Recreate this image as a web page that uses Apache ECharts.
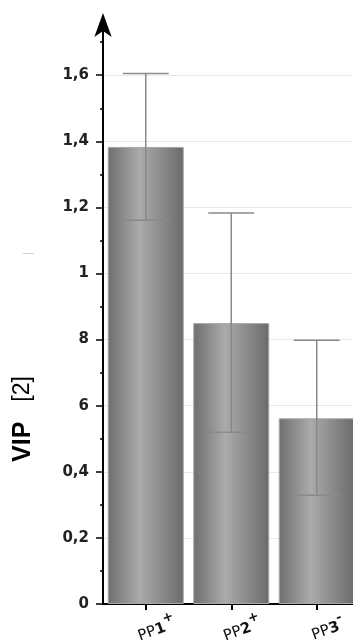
<!DOCTYPE html>
<html>
<head>
<meta charset="utf-8">
<script src="https://cdn.jsdelivr.net/npm/echarts@6/dist/echarts.min.js"></script>
<style>
html,body{margin:0;padding:0;background:#fff;}
#c{width:353px;height:642px;}
</style>
</head>
<body>
<div id="c"></div>
<script>
var categories = ['PP1+', 'PP2+', 'PP3-'];
var values = [1.383, 0.850, 0.562];
var errLow = [1.161, 0.520, 0.329];
var errHigh = [1.605, 1.183, 0.798];
var yTickLabels = ['0', '0,2', '0,4', '6', '8', '1', '1,2', '1,4', '1,6'];
var yTitleMain = 'VIP';
var yTitleUnit = '[2]';

var chart = echarts.init(document.getElementById('c'), null, {renderer: 'canvas'});

var gridLeft = 103, gridWidth = 256.5, gridBottom = 38;

var errData = categories.map(function (c, i) { return [i, errLow[i], errHigh[i]]; });

var option = {
  animation: false,
  backgroundColor: '#ffffff',
  grid: [
    {left: gridLeft, width: gridWidth, top: 42.15, bottom: gridBottom, outerBoundsMode: 'none', containLabel: false},
    {left: gridLeft, width: gridWidth, top: 75.2, bottom: gridBottom, outerBoundsMode: 'none', containLabel: false},
    {left: gridLeft, width: gridWidth, top: 30, bottom: gridBottom, outerBoundsMode: 'none', containLabel: false}
  ],
  xAxis: [
    {
      gridIndex: 0, type: 'category', data: categories, boundaryGap: true,
      axisLine: {show: true, lineStyle: {color: '#000', width: 2}},
      axisTick: {show: true, alignWithLabel: true, length: 6, lineStyle: {color: '#000', width: 2}},
      axisLabel: {
        rotate: 20, margin: 15, align: 'center', verticalAlign: 'top', padding: [0, 0, 0, 14],
        formatter: function (v) {
          var m = v.match(/^(PP)(\d)(.)$/);
          return '{a|' + m[1] + '}{b|' + m[2] + '}{c|' + m[3] + '}';
        },
        rich: {
          a: {fontFamily: 'DejaVu Sans', fontSize: 15, color: '#111', lineHeight: 22, verticalAlign: 'bottom'},
          b: {fontFamily: 'DejaVu Sans', fontSize: 15, fontWeight: 'bold', color: '#111', lineHeight: 22, verticalAlign: 'bottom'},
          c: {fontFamily: 'DejaVu Sans', fontSize: 13, fontWeight: 'bold', color: '#111', lineHeight: 22, verticalAlign: 'top'}
        }
      },
      splitLine: {show: false}
    },
    {gridIndex: 1, type: 'category', data: categories, show: false},
    {gridIndex: 2, type: 'category', data: categories, show: false}
  ],
  yAxis: [
    {
      gridIndex: 0, type: 'value', min: 0, max: 1.7, interval: 0.1,
      axisLine: {show: true, lineStyle: {color: '#000', width: 2}},
      axisTick: {show: true, length: 3, lineStyle: {color: '#000', width: 1.5}},
      axisLabel: {show: false},
      splitLine: {show: false}
    },
    {
      gridIndex: 1, type: 'value', min: 0, max: 1.6, interval: 0.2,
      axisLine: {show: false},
      axisTick: {show: true, length: 7, lineStyle: {color: '#000', width: 1.5}},
      axisLabel: {
        show: true, margin: 14, fontFamily: 'DejaVu Sans', fontWeight: 'bold', fontSize: 15, color: '#222',
        formatter: function (v) { return yTickLabels[Math.round(v / 0.2)]; }
      },
      splitLine: {show: true, lineStyle: {color: '#e8e8e8', width: 1}}
    },
    {
      gridIndex: 2, type: 'value', min: 0, max: 1,
      axisLine: {show: true, symbol: ['none', 'arrow'], symbolSize: [13, 24], symbolOffset: [0, 17],
        lineStyle: {color: '#000', width: 2}},
      axisTick: {show: false},
      axisLabel: {show: false},
      splitLine: {show: false}
    }
  ],
  series: [
    {
      type: 'bar', xAxisIndex: 0, yAxisIndex: 0, data: values, barWidth: 76,
      itemStyle: {
        color: new echarts.graphic.LinearGradient(0, 0, 1, 0, [
          {offset: 0, color: '#6e6e6e'},
          {offset: 0.42, color: '#ababab'},
          {offset: 1, color: '#6a6a6a'}
        ]),
        borderColor: '#a8a8a8', borderWidth: 1
      },
      z: 2
    },
    {
      type: 'custom', xAxisIndex: 0, yAxisIndex: 0, data: errData, z: 5,
      renderItem: function (params, api) {
        var x = api.value(0);
        var lo = api.coord([x, api.value(1)]);
        var hi = api.coord([x, api.value(2)]);
        var hw = 23;
        var st = {stroke: '#8a8a8a', lineWidth: 1.5};
        return {
          type: 'group',
          children: [
            {type: 'line', shape: {x1: lo[0], y1: lo[1], x2: hi[0], y2: hi[1]}, style: st},
            {type: 'line', shape: {x1: hi[0] - hw, y1: hi[1], x2: hi[0] + hw, y2: hi[1]}, style: st},
            {type: 'line', shape: {x1: lo[0] - hw, y1: lo[1], x2: lo[0] + hw, y2: lo[1]}, style: st}
          ]
        };
      }
    }
  ],
  graphic: [
    {
      type: 'text', x: 23, y: 419, rotation: Math.PI / 2,
      style: {
        text: '{m|' + yTitleMain + '}{u|' + yTitleUnit + '}',
        align: 'center', verticalAlign: 'middle',
        rich: {
          m: {fontFamily: 'Liberation Sans', fontSize: 25, fontWeight: 'bold', fill: '#000', padding: [0, 20, 0, 0]},
          u: {fontFamily: 'Liberation Sans', fontSize: 23, fontWeight: 'normal', fill: '#000'}
        }
      }
    },
    {
      type: 'line', shape: {x1: 23, y1: 253.5, x2: 34, y2: 253.5},
      style: {stroke: '#cfcfcf', lineWidth: 1}
    }
  ]
};
chart.setOption(option);
</script>
</body>
</html>
